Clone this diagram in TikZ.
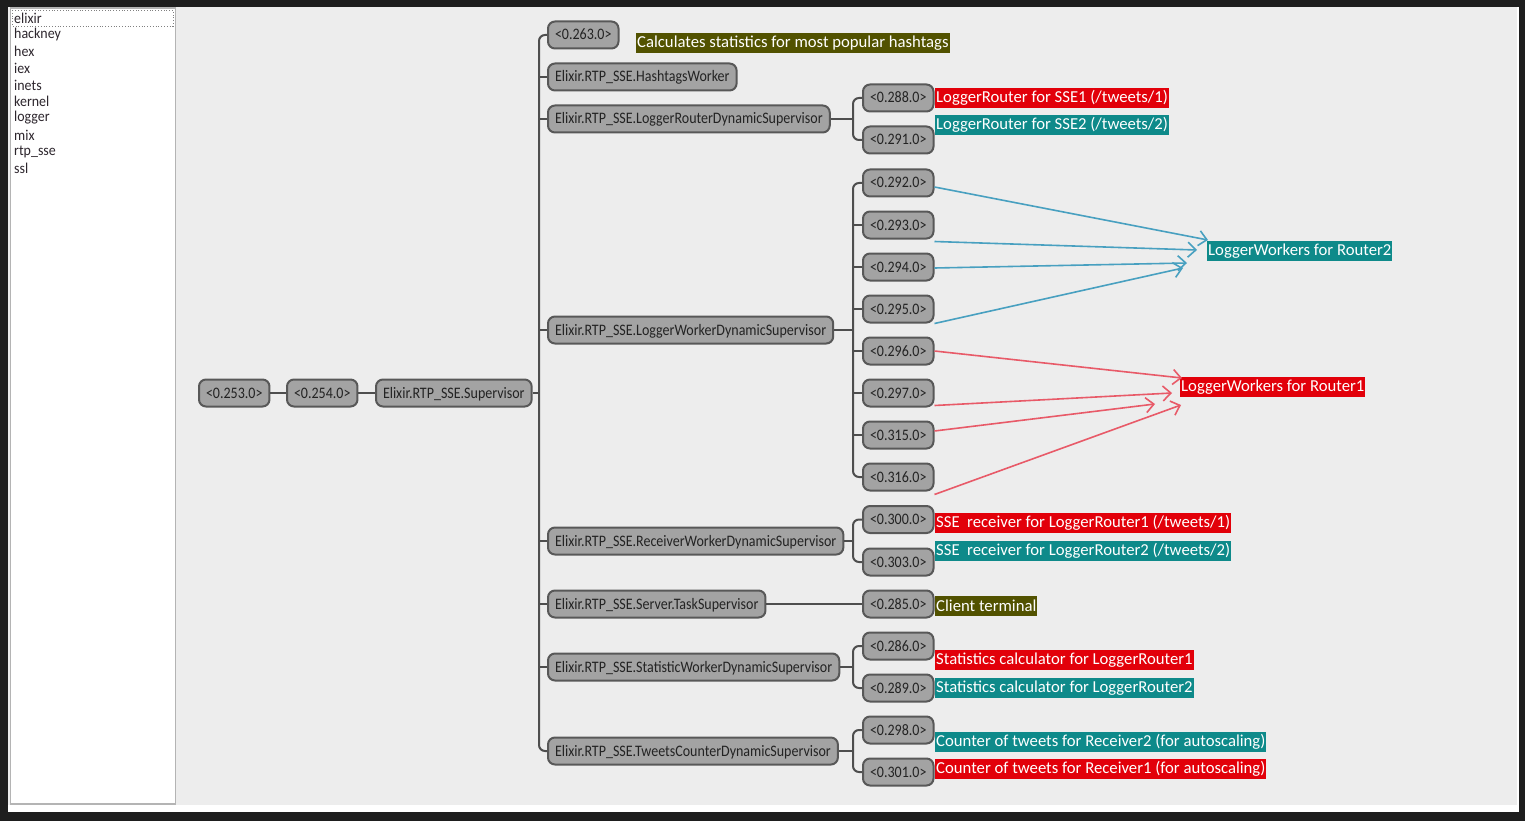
\documentclass[tikz,border=0pt]{standalone}
\usepackage{fontspec}
\setmainfont{Carlito}
\newfontfamily\procfont[FakeStretch=0.875]{Carlito}
\newfontfamily\listfont[FakeStretch=0.93]{Carlito}
\usetikzlibrary{arrows.meta}

\definecolor{frame}{RGB}{30,30,30}
\definecolor{canvas}{RGB}{237,237,237}
\definecolor{panelrule}{RGB}{180,180,180}
\definecolor{listtext}{RGB}{45,38,45}
\definecolor{procfill}{RGB}{163,163,163}
\definecolor{procrule}{RGB}{88,88,88}
\definecolor{proctext}{RGB}{35,35,35}
\definecolor{treeline}{RGB}{78,78,78}
\definecolor{tagred}{RGB}{226,0,10}
\definecolor{tagteal}{RGB}{14,138,138}
\definecolor{tagolive}{RGB}{82,82,0}
\definecolor{arrowblue}{RGB}{72,160,192}
\definecolor{arrowred}{RGB}{232,90,104}

\tikzset{
  proc/.style={draw=procrule, line width=2pt, fill=procfill, rounded corners=7pt,
    minimum height=27pt, inner xsep=7pt, inner ysep=0pt, text=proctext,
    text height=11.5pt, text depth=1.5pt,
    font=\procfont\fontsize{16}{18}\selectfont, anchor=west},
  tree/.style={draw=treeline, line width=2pt},
  tag/.style={anchor=west, text=white, inner xsep=1pt, inner ysep=0pt,
    minimum height=20pt, font=\fontsize{16.7}{18}\selectfont},
  redtag/.style={tag, fill=tagred},
  tealtag/.style={tag, fill=tagteal},
  olivetag/.style={tag, fill=tagolive},
  item/.style={anchor=west, inner sep=0pt, text=listtext, font=\listfont\fontsize{15}{16}\selectfont},
  link/.style={line width=1.6pt, -{Straight Barb[length=8pt,width=15pt,line width=1.6pt]}},
  bluelink/.style={link, draw=arrowblue},
  redlink/.style={link, draw=arrowred}
}

\begin{document}
\begin{tikzpicture}[x=1pt,y=-1pt]
\useasboundingbox (0,0) rectangle (1525,821);

% window frame and canvas
\fill[frame] (0,0) rectangle (1525,821);
\fill[white] (8,7) rectangle (1519,812);
\fill[canvas] (8,7) rectangle (1517,805);

% application list
\draw[panelrule, line width=1.5pt, fill=white] (10.5,8) rectangle (175.5,804);
\draw[gray, dotted, line width=0.8pt] (12,10) rectangle (173,26);
\node[item] (app1) at (14,18) {elixir};
\node[item] (app2) at (14,35) {hackney};
\node[item] (app3) at (14,51.5) {hex};
\node[item] (app4) at (14,68) {iex};
\node[item] (app5) at (14,85) {inets};
\node[item] (app6) at (14,101.5) {kernel};
\node[item] (app7) at (14,118) {logger};
\node[item] (app8) at (14,135) {mix};
\node[item] (app9) at (14,151.5) {rtp\_sse};
\node[item] (app10) at (14,168) {ssl};

% trunk positions
\coordinate (t1) at (539,0);
\coordinate (t2) at (853,0);

% root chain
\node[proc] (n253) at (198,393) {<0.253.0>};
\node[proc] (n254) at (286,393) {<0.254.0>};
\node[proc] (sup) at (375,393) {Elixir.RTP\_SSE.Supervisor};

% first level
\node[proc] (n263) at (547,35) {<0.263.0>};
\node[proc] (hw) at (547,77) {Elixir.RTP\_SSE.HashtagsWorker};
\node[proc] (lrds) at (547,119) {Elixir.RTP\_SSE.LoggerRouterDynamicSupervisor};
\node[proc] (lwds) at (547,330) {Elixir.RTP\_SSE.LoggerWorkerDynamicSupervisor};
\node[proc] (rwds) at (547,541) {Elixir.RTP\_SSE.ReceiverWorkerDynamicSupervisor};
\node[proc] (ts) at (547,604) {Elixir.RTP\_SSE.Server.TaskSupervisor};
\node[proc] (swds) at (547,667) {Elixir.RTP\_SSE.StatisticWorkerDynamicSupervisor};
\node[proc] (tcds) at (547,751) {Elixir.RTP\_SSE.TweetsCounterDynamicSupervisor};

% second level
\node[proc] (n288) at (862,98) {<0.288.0>};
\node[proc] (n291) at (862,140) {<0.291.0>};
\node[proc] (n292) at (862,183) {<0.292.0>};
\node[proc] (n293) at (862,225) {<0.293.0>};
\node[proc] (n294) at (862,267) {<0.294.0>};
\node[proc] (n295) at (862,309) {<0.295.0>};
\node[proc] (n296) at (862,351) {<0.296.0>};
\node[proc] (n297) at (862,393) {<0.297.0>};
\node[proc] (n315) at (862,435) {<0.315.0>};
\node[proc] (n316) at (862,477) {<0.316.0>};
\node[proc] (n300) at (862,519.5) {<0.300.0>};
\node[proc] (n303) at (862,562) {<0.303.0>};
\node[proc] (n285) at (862,604) {<0.285.0>};
\node[proc] (n286) at (862,646) {<0.286.0>};
\node[proc] (n289) at (862,688) {<0.289.0>};
\node[proc] (n298) at (862,730) {<0.298.0>};
\node[proc] (n301) at (862,772) {<0.301.0>};

% tree links
\draw[tree] (n253.east) -- (n254.west);
\draw[tree] (n254.east) -- (sup.west);
\draw[tree] (sup.east) -- (sup.east -| t1);
\draw[tree, rounded corners=6pt] (n263.west) -- (n263.west -| t1) -- (tcds.west -| t1) -- (tcds.west);
\foreach \c in {hw,lrds,lwds,rwds,ts,swds}
  \draw[tree] (\c.west) -- (\c.west -| t1);

\draw[tree] (lrds.east) -- (lrds.east -| t2);
\draw[tree, rounded corners=6pt] (n288.west) -- (n288.west -| t2) -- (n291.west -| t2) -- (n291.west);

\draw[tree] (lwds.east) -- (lwds.east -| t2);
\draw[tree, rounded corners=6pt] (n292.west) -- (n292.west -| t2) -- (n316.west -| t2) -- (n316.west);
\foreach \c in {n293,n294,n295,n296,n297,n315}
  \draw[tree] (\c.west) -- (\c.west -| t2);

\draw[tree] (rwds.east) -- (rwds.east -| t2);
\draw[tree, rounded corners=6pt] (n300.west) -- (n300.west -| t2) -- (n303.west -| t2) -- (n303.west);

\draw[tree] (ts.east) -- (n285.west);

\draw[tree] (swds.east) -- (swds.east -| t2);
\draw[tree, rounded corners=6pt] (n286.west) -- (n286.west -| t2) -- (n289.west -| t2) -- (n289.west);

\draw[tree] (tcds.east) -- (tcds.east -| t2);
\draw[tree, rounded corners=6pt] (n298.west) -- (n298.west -| t2) -- (n301.west -| t2) -- (n301.west);

% annotations
\node[olivetag] (l263) at (636,43) {Calculates statistics for most popular hashtags};
\node[redtag] (l288) at (935,98) {LoggerRouter for SSE1 (/tweets/1)};
\node[tealtag] (l291) at (935,125) {LoggerRouter for SSE2 (/tweets/2)};
\node[tealtag] (lw2) at (1207,251) {LoggerWorkers for Router2};
\node[redtag] (lw1) at (1180,387) {LoggerWorkers for Router1};
\node[redtag] (l300) at (935,523) {SSE\ \ receiver for LoggerRouter1 (/tweets/1)};
\node[tealtag] (l303) at (935,551) {SSE\ \ receiver for LoggerRouter2 (/tweets/2)};
\node[olivetag] (l285) at (935,605.5) {Client terminal};
\node[redtag] (l286) at (935,660) {Statistics calculator for LoggerRouter1};
\node[tealtag] (l289) at (935,688) {Statistics calculator for LoggerRouter2};
\node[tealtag] (l298) at (935,742) {Counter of tweets for Receiver2 (for autoscaling)};
\node[redtag] (l301) at (935,769) {Counter of tweets for Receiver1 (for autoscaling)};

% worker arrows
\coordinate (b1) at (1208,240);
\coordinate (b2) at (1197,250);
\coordinate (b3) at (1187,263);
\coordinate (b4) at (1183,268);
\coordinate (r1) at (1182,378);
\coordinate (r2) at (1172,393);
\coordinate (r3) at (1155,404);
\coordinate (r4) at (1181,405);

\draw[bluelink] ([yshift=-4pt]n292.east) -- (b1);
\draw[bluelink] ([yshift=-2pt]n293.south east) -- (b2);
\draw[bluelink] ([yshift=-1pt]n294.east) -- (b3);
\draw[bluelink] (n295.south east) -- (b4);
\draw[redlink] (n296.east) -- (r1);
\draw[redlink] ([yshift=2pt]n297.south east) -- (r2);
\draw[redlink] ([yshift=4pt]n315.east) -- (r3);
\draw[redlink] ([yshift=-3pt]n316.south east) -- (r4);
\end{tikzpicture}
\end{document}
